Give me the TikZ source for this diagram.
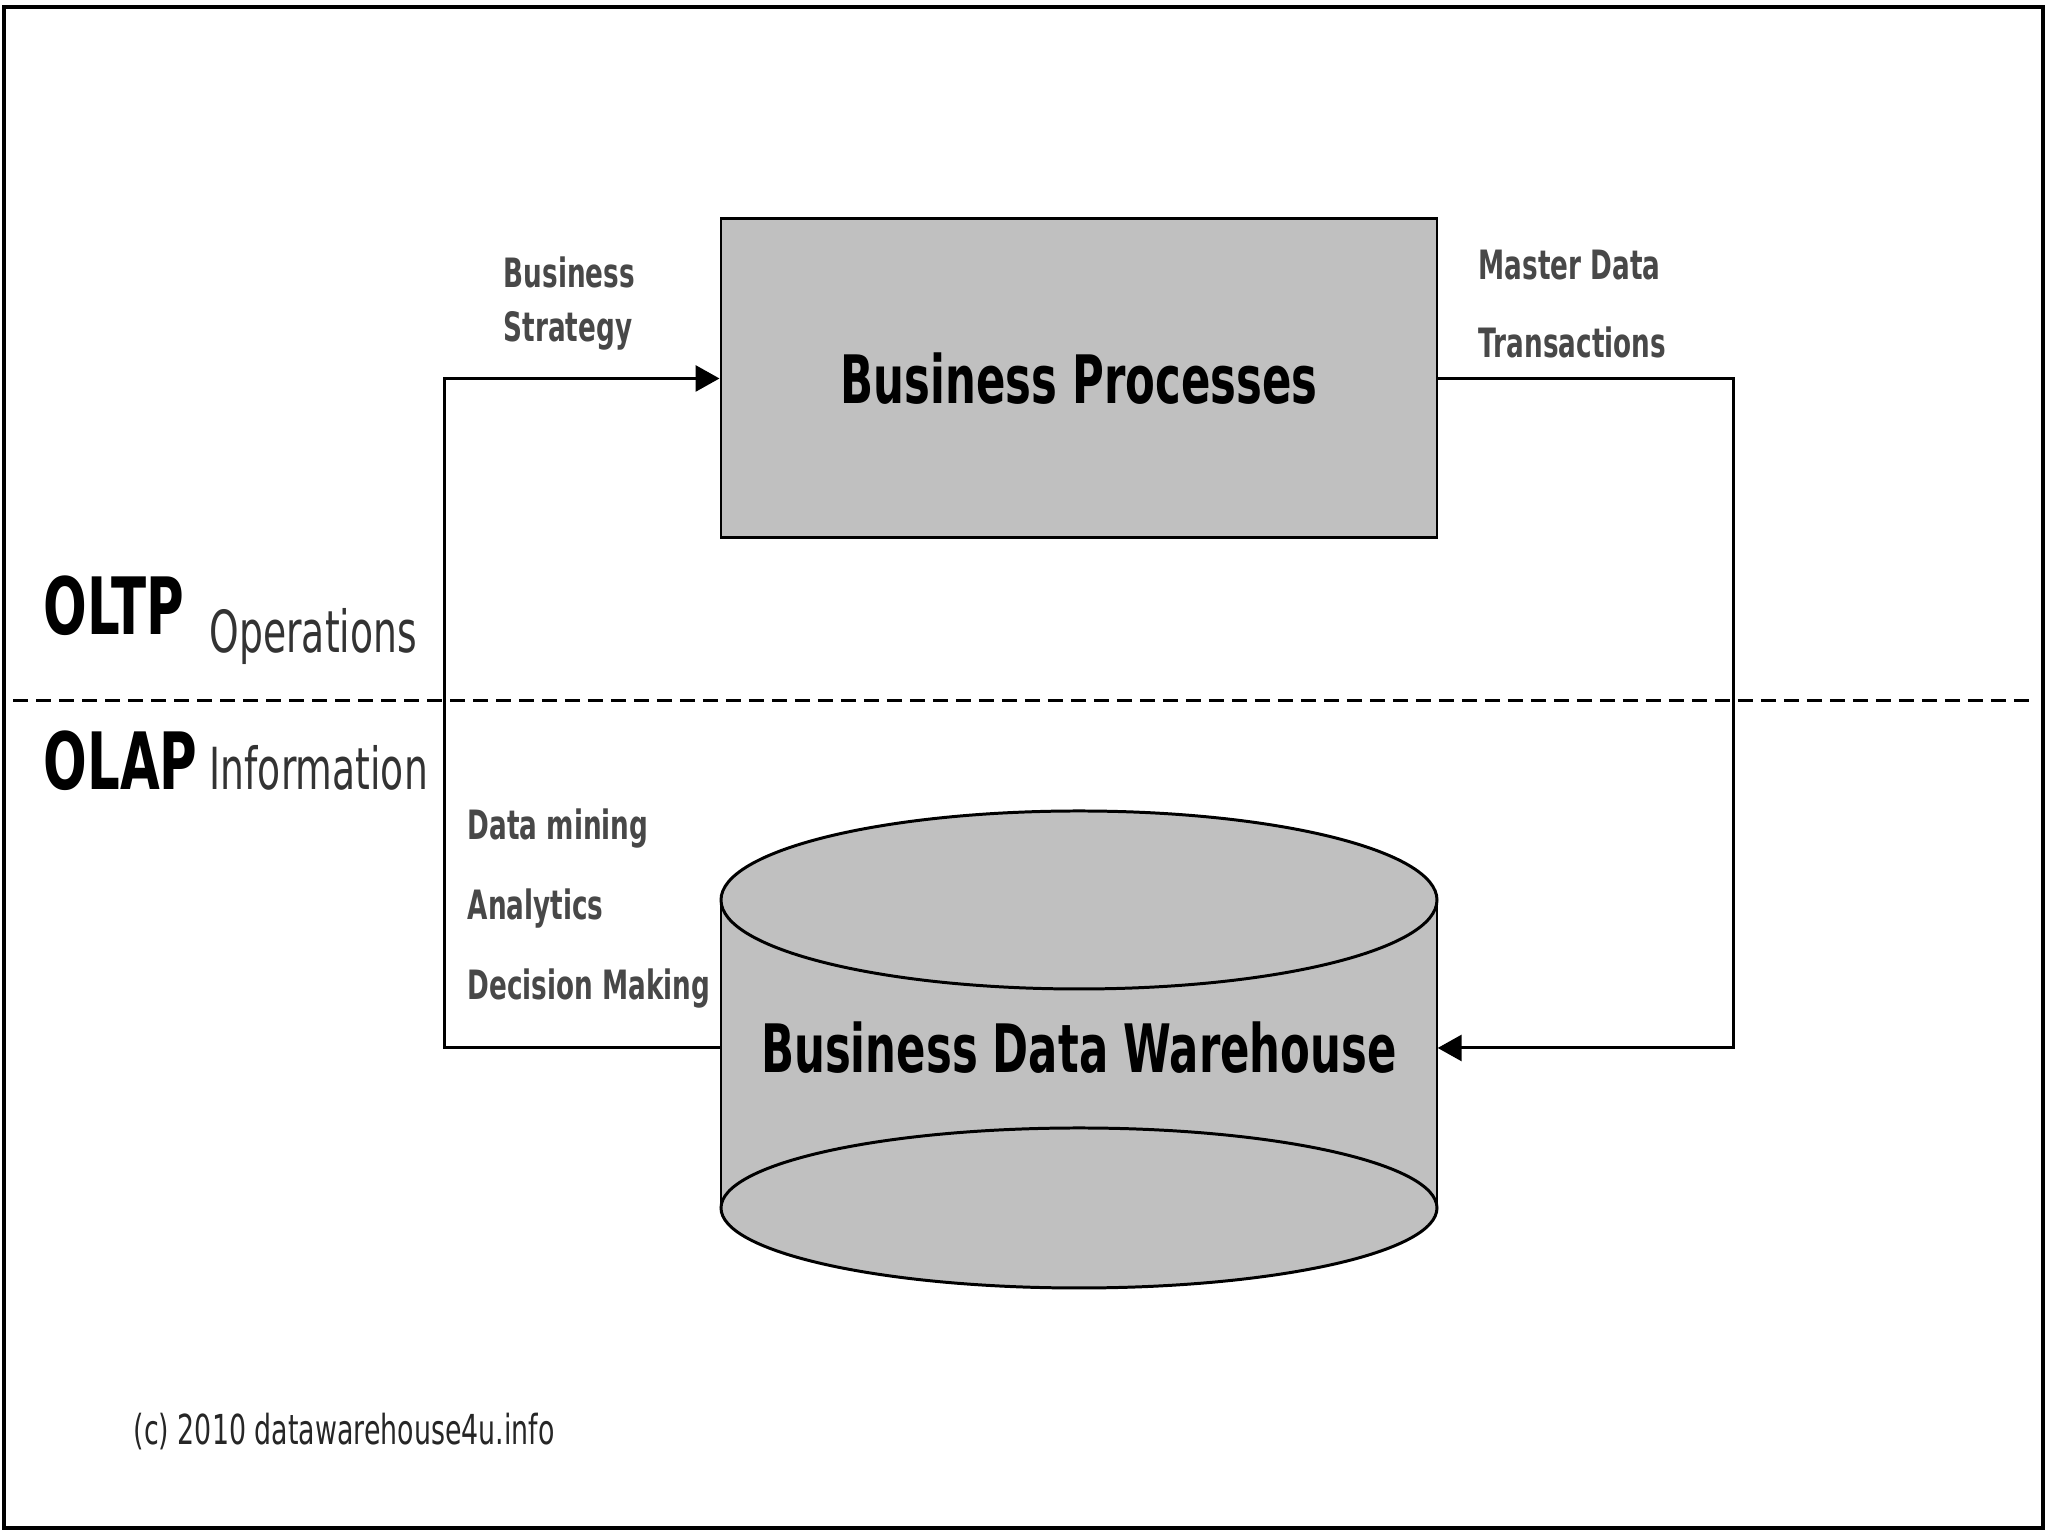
\documentclass[tikz,border=0pt]{standalone}
\usepackage{fontspec}
\newfontfamily\dwfont[FakeStretch=0.65]{DejaVu Sans}
\usepackage{xcolor}
\definecolor{boxgray}{RGB}{192,192,192}
\definecolor{lblgray}{RGB}{72,72,72}
\usepackage{tikz}
\usetikzlibrary{arrows.meta}

\begin{document}
\begin{tikzpicture}[
    flow/.style={line width=0.85pt, -{Triangle[length=2.4mm,width=2.6mm]}},
    title/.style={font=\dwfont\bfseries\fontsize{19}{23}\selectfont, inner sep=0pt},
    side/.style={font=\dwfont\bfseries\fontsize{22.5}{26}\selectfont, inner sep=0pt, anchor=base west},
    layer/.style={font=\dwfont\fontsize{16.5}{20}\selectfont, text=black!80, inner sep=0pt, anchor=base west},
    lbl/.style={font=\dwfont\bfseries\fontsize{11.5}{15.4}\selectfont, text=lblgray, inner sep=0pt, anchor=base west}]
  \useasboundingbox (0,0) rectangle (20.48,15.36);
  \fill[white] (0,0) rectangle (20.48,15.36);
  \draw[line width=1.2pt] (0.04,0.08) rectangle (20.43,15.29);

  % OLTP / OLAP split
  \draw[line width=0.85pt, dash pattern=on 1.5mm off 0.8mm] (0.13,8.35) -- (20.31,8.35);
  \node[side] (oltp) at (0.43,9.01) {OLTP};
  \node[layer] (ops) at (2.09,8.83) {Operations};
  \node[side] (olap) at (0.43,7.46) {OLAP};
  \node[layer] (info) at (2.09,7.46) {Information};

  \node[title, draw, line width=0.85pt, fill=boxgray, minimum width=7.16cm, minimum height=3.19cm] (bp) at (10.79,11.575) {Business Processes};

  % the warehouse drum
  \fill[boxgray] (7.21,6.36) -- (7.21,3.28) arc[start angle=180, end angle=360, x radius=3.58, y radius=0.80]
    -- (14.37,6.36) arc[start angle=0, end angle=180, x radius=3.58, y radius=0.89] -- cycle;
  \draw[line width=0.85pt] (7.21,6.36) -- (7.21,3.28);
  \draw[line width=0.85pt] (14.37,6.36) -- (14.37,3.28);
  \draw[line width=0.85pt] (10.79,6.36) ellipse [x radius=3.58, y radius=0.89];
  \draw[line width=0.85pt] (10.79,3.28) ellipse [x radius=3.58, y radius=0.80];
  \node[title, minimum width=7.16cm] (dwh) at (10.79,4.88) {Business Data Warehouse};

  \draw[flow] (dwh.west) -- ++(-2.76,0) |- (bp.west);
  \draw[flow] (bp.east) -- ++(2.95,0) |- (dwh.east);

  \node[lbl, anchor=north west, align=left] (strat) at (5.03,12.80) {Business\\Strategy};
  \node[lbl] (master) at (14.78,12.56) {Master Data};
  \node[lbl] (trans) at (14.78,11.78) {Transactions};
  \node[lbl] (mining) at (4.67,6.96) {Data mining};
  \node[lbl] (analytics) at (4.67,6.16) {Analytics};
  \node[lbl] (decision) at (4.67,5.36) {Decision Making};

  \node[font=\dwfont\fontsize{11.75}{14}\selectfont, text=black!85, inner sep=0pt, anchor=base west] (copyr) at (1.33,0.91) {(c) 2010 datawarehouse4u.info};
\end{tikzpicture}
\end{document}
